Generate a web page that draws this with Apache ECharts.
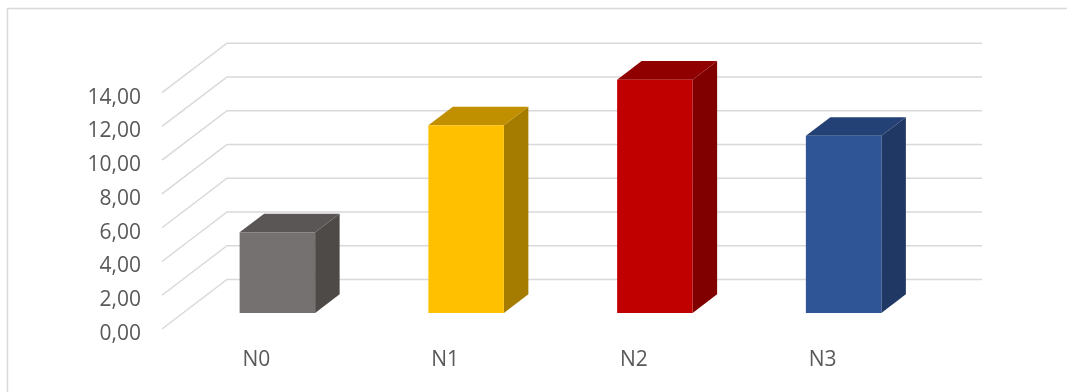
<!DOCTYPE html>
<html>
<head>
<meta charset="utf-8">
<script src="https://cdn.jsdelivr.net/npm/echarts@6/dist/echarts.min.js"></script>
<style>html,body{margin:0;padding:0;background:#fff;}#c{width:1067px;height:392px;}</style>
</head>
<body>
<div id="c"></div>
<script>
const categories = ['N0', 'N1', 'N2', 'N3'];
const values = [4.78, 11.12, 13.82, 10.5];
const yTicks = [0, 2, 4, 6, 8, 10, 12, 14];
const frontColors = ['#767171', '#FFC000', '#C00000', '#2F5597'];
const topColors = ['#5A5655', '#C09000', '#900000', '#244175'];
const sideColors = ['#4E4A48', '#A57C00', '#800000', '#1F3864'];

const DX = 65, DY = -49.5;      // floor depth in pixels
const F0 = 0.323, F1 = 0.70;    // bar front / back depth fraction

const chart = echarts.init(document.getElementById('c'), null, {renderer: 'canvas'});
chart.setOption({
  backgroundColor: '#fff',
  animation: false,
  graphic: [{
    type: 'rect', shape: {x: 7.5, y: 8.5, width: 1200, height: 600},
    style: {fill: 'none', stroke: '#D9D9D9', lineWidth: 1.5}, silent: true, z: 0
  }],
  grid: {left: 162, right: 150, top: 92.7, bottom: 63, containLabel: false},
  xAxis: {
    type: 'category', data: categories,
    axisLine: {show: false}, axisTick: {show: false},
    axisLabel: {color: '#595959', fontSize: 21, fontFamily: 'Open Sans', margin: 21},
    splitLine: {show: false}
  },
  yAxis: {
    type: 'value', min: 0, max: 14, interval: 2,
    axisLine: {show: false}, axisTick: {show: false}, splitLine: {show: false},
    axisLabel: {color: '#595959', fontSize: 21, fontFamily: 'Open Sans', margin: 21,
      formatter: v => '{a|' + v.toFixed(2).replace('.', ',') + '}',
      rich: {a: {color: '#595959', fontSize: 21, fontFamily: 'Open Sans', padding: [10, 0, 0, 0]}}}
  },
  series: [
    {
      type: 'custom', z: 1, silent: true,
      data: yTicks.map(v => [0, v]),
      renderItem: function (params, api) {
        const cs = params.coordSys;
        const y = api.coord([0, api.value(1)])[1];
        const x0 = cs.x, x1 = cs.x + cs.width;
        return {
          type: 'polyline',
          shape: {points: [[x0, y], [x0 + DX, y + DY], [x1 + DX, y + DY]]},
          style: {stroke: '#D9D9D9', lineWidth: 1.5, fill: 'none'}
        };
      }
    },
    {
      type: 'custom', z: 2, silent: true,
      data: values.map((v, i) => [i, v]),
      renderItem: function (params, api) {
        const i = api.value(0);
        const top = api.coord([i, api.value(1)]);
        const base = api.coord([i, 0]);
        const w = api.size([1, 0])[0] * 0.4;
        const fx = F0 * DX, fy = F0 * DY;
        const ddx = (F1 - F0) * DX, ddy = (F1 - F0) * DY;
        const x0 = top[0] - w / 2 + fx, x1 = x0 + w;
        const yT = top[1] + fy, yB = base[1] + fy;
        return {
          type: 'group',
          children: [
            {type: 'polygon', shape: {points: [[x1, yT], [x1 + ddx, yT + ddy], [x1 + ddx, yB + ddy], [x1, yB]]},
              style: {fill: sideColors[i]}},
            {type: 'polygon', shape: {points: [[x0, yT], [x1, yT], [x1 + ddx, yT + ddy], [x0 + ddx, yT + ddy]]},
              style: {fill: topColors[i]}},
            {type: 'rect', shape: {x: x0, y: yT, width: w, height: yB - yT},
              style: {fill: frontColors[i]}}
          ]
        };
      }
    }
  ]
});
</script>
</body>
</html>
